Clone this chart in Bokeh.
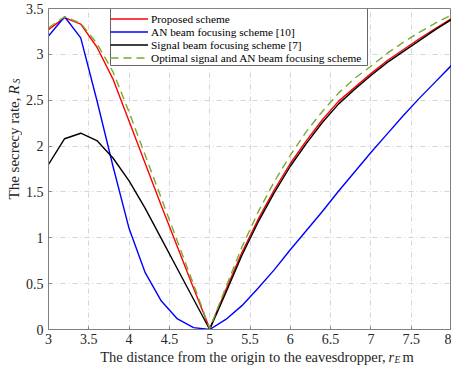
import math
from bokeh.plotting import figure
from bokeh.layouts import column, row
from bokeh.models import (Label, Legend, LegendItem, Range1d, FixedTicker,
                          ColumnDataSource, BoxAnnotation)
from bokeh.embed import file_html
from bokeh.resources import INLINE

# ---- data ----
distance = [3.0, 3.2, 3.4, 3.6, 3.8, 4.0, 4.2, 4.4, 4.6, 4.8, 5.0,
            5.2, 5.4, 5.6, 5.8, 6.0, 6.2, 6.4, 6.6, 6.8, 7.0,
            7.2, 7.4, 7.6, 7.8, 8.0]
proposed = [3.27, 3.40, 3.33, 3.08, 2.73, 2.27, 1.81, 1.35, 0.90, 0.45, 0.01,
            0.43, 0.84, 1.20, 1.52, 1.81, 2.06, 2.29, 2.49, 2.64, 2.79,
            2.93, 3.05, 3.17, 3.28, 3.39]
an_focus = [3.20, 3.41, 3.18, 2.50, 1.78, 1.10, 0.62, 0.31, 0.115, 0.02, 0.00,
            0.11, 0.26, 0.45, 0.65, 0.87, 1.08, 1.29, 1.51, 1.72, 1.93,
            2.13, 2.33, 2.52, 2.70, 2.88]
signal_focus = [1.80, 2.08, 2.14, 2.06, 1.87, 1.62, 1.32, 0.99, 0.66, 0.33, 0.00,
                0.40, 0.81, 1.17, 1.49, 1.78, 2.03, 2.26, 2.46, 2.62, 2.77,
                2.91, 3.03, 3.15, 3.27, 3.38]
optimal = [3.29, 3.41, 3.34, 3.12, 2.81, 2.37, 1.90, 1.43, 0.96, 0.49, 0.01,
           0.46, 0.90, 1.28, 1.61, 1.90, 2.16, 2.38, 2.58, 2.74, 2.87,
           3.01, 3.13, 3.24, 3.34, 3.43]

series_names = ["Proposed scheme", "AN beam focusing scheme [10]",
                "Signal beam focusing scheme [7]",
                "Optimal signal and AN beam focusing scheme"]

x_ticks = [3, 3.5, 4, 4.5, 5, 5.5, 6, 6.5, 7, 7.5, 8]
x_tick_labels = ["3", "3.5", "4", "4.5", "5", "5.5", "6", "6.5", "7", "7.5", "8"]
y_ticks = [0, 0.5, 1, 1.5, 2, 2.5, 3, 3.5]
y_tick_labels = ["0", "0.5", "1", "1.5", "2", "2.5", "3", "3.5"]

FONT = "Liberation Serif"
AXIS_GRAY = "#808080"
TEXT_COLOR = "#262626"

YLAB_W = 22
MAIN_W = 451 - YLAB_W
MAIN_H = 349
XLAB_H = 370 - MAIN_H

# ---------------- main plot ----------------
p = figure(width=MAIN_W, height=MAIN_H, output_backend="svg", toolbar_location=None,
           x_range=Range1d(3, 8), y_range=Range1d(0, 3.5),
           min_border_left=47 - YLAB_W, min_border_right=0, min_border_top=8,
           min_border_bottom=20)
p.background_fill_color = "white"
p.border_fill_color = "white"
p.outline_line_color = AXIS_GRAY
p.outline_line_width = 1

src = ColumnDataSource(dict(x=distance, proposed=proposed, an=an_focus,
                            sig=signal_focus, opt=optimal))

r_red = p.line("x", "proposed", source=src, line_color="#ff0000", line_width=1.4)
r_blue = p.line("x", "an", source=src, line_color="#0000ff", line_width=1.4)
r_black = p.line("x", "sig", source=src, line_color="#000000", line_width=1.4)
r_green = p.line("x", "opt", source=src, line_color="#77ac30", line_width=1.4,
                 line_dash="8 5")

for ax, ticks, labels in ((p.xaxis[0], x_ticks, x_tick_labels),
                          (p.yaxis[0], y_ticks, y_tick_labels)):
    ax.ticker = FixedTicker(ticks=ticks)
    ax.major_label_overrides = {t: l for t, l in zip(ticks, labels)}
    ax.axis_line_color = AXIS_GRAY
    ax.major_tick_line_color = AXIS_GRAY
    ax.major_tick_in = 3
    ax.major_tick_out = 0
    ax.minor_tick_line_color = None
    ax.major_label_text_font = FONT
    ax.major_label_text_font_size = "14px"
    ax.major_label_text_color = TEXT_COLOR
p.xaxis[0].major_label_standoff = 4
p.yaxis[0].major_label_standoff = 5

for g in (p.xgrid[0], p.ygrid[0]):
    g.grid_line_color = "#d4d4d4"
    g.grid_line_dash = "5 3 1 3"
    g.grid_line_width = 1
p.xgrid[0].ticker = FixedTicker(ticks=x_ticks)
p.ygrid[0].ticker = FixedTicker(ticks=y_ticks)

# legend frame (white box with grey border), then the legend entries on top
legend_box = BoxAnnotation(left=62, right=319, bottom=264, top=321,
                           left_units="screen", right_units="screen",
                           bottom_units="screen", top_units="screen",
                           fill_color="white", fill_alpha=1.0,
                           line_color="#666666", line_alpha=1.0, line_width=1)
p.add_layout(legend_box)

legend = Legend(items=[LegendItem(label=series_names[0], renderers=[r_red]),
                       LegendItem(label=series_names[1], renderers=[r_blue]),
                       LegendItem(label=series_names[2], renderers=[r_black]),
                       LegendItem(label=series_names[3], renderers=[r_green])],
                location=(62, 265))
legend.border_line_color = None
legend.background_fill_color = None
legend.padding = 2
legend.spacing = 0
legend.margin = 0
legend.label_text_font = FONT
legend.label_text_font_size = "11.3px"
legend.label_text_color = "#000000"
legend.glyph_width = 38
legend.glyph_height = 13
legend.label_height = 13
legend.label_standoff = 3
p.add_layout(legend)


# ---------------- label strips (text only) ----------------
def strip(w, h):
    f = figure(width=w, height=h, output_backend="svg", toolbar_location=None,
               x_range=Range1d(0, w), y_range=Range1d(0, h),
               x_axis_type=None, y_axis_type=None, min_border=0)
    f.outline_line_color = None
    f.background_fill_color = "white"
    f.border_fill_color = "white"
    return f


def lab(fig, text, x, y, size="15px", style="normal", align="left", angle=0.0):
    fig.add_layout(Label(text=text, x=x, y=y, x_units="screen", y_units="screen",
                         text_font=FONT, text_font_size=size, text_font_style=style,
                         text_align=align, text_baseline="middle", angle=angle,
                         text_color=TEXT_COLOR))


# x label strip: spans the full width below the main plot
xl = strip(451, XLAB_H)
xc = XLAB_H - (356.5 - MAIN_H)
lab(xl, "The distance from the origin to the eavesdropper,", 385, xc,
    size="14.5px", align="right")
lab(xl, "r", 388, xc, size="14.5px", style="italic")
lab(xl, "E", 394, xc - 3, size="9.5px", style="italic")
lab(xl, "m", 402, xc, size="14.5px")

# y label strip: left of the main plot
yl = strip(YLAB_W, MAIN_H)
lab(yl, "The secrecy rate,", 13, MAIN_H - 117, align="right", angle=math.pi / 2)
lab(yl, "R", 13, MAIN_H - 114, style="italic", angle=math.pi / 2)
lab(yl, "S", 16, MAIN_H - 103, size="10px", style="italic", angle=math.pi / 2)

layout = column(row(yl, p, spacing=0), xl, spacing=0)

open("out.html", "w").write(file_html(layout, INLINE))
